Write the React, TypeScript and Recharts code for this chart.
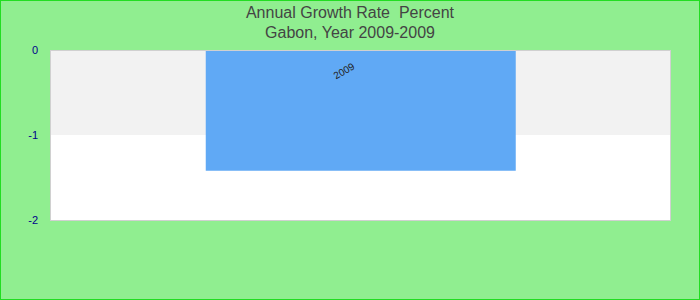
import { BarChart, Bar, XAxis, YAxis, CartesianGrid, ReferenceArea, LabelList } from "recharts";

const years = ["2009"];
const growthRate = [-1.42];
const yTicks = [0, -1, -2];

const data = years.map((year, i) => ({ year, value: growthRate[i] }));

function YearLabel(props: any) {
  const { x, y, width, height, value } = props;
  const top = Math.min(y, y + height);
  const cx = x + width / 2 - 15;
  const cy = top + 24;
  return (
    <text
      x={cx}
      y={cy}
      transform={`rotate(-30, ${cx}, ${cy})`}
      textAnchor="middle"
      fontSize={10}
      fill="#222"
      fontFamily="Arial, 'Liberation Sans', sans-serif"
    >
      {value}
    </text>
  );
}

export default function App() {
  return (
    <div
      style={{
        position: "absolute",
        left: 0,
        top: 0,
        width: 700,
        height: 300,
        boxSizing: "border-box",
        background: "#90ee90",
        border: "1px solid #22dd22",
        fontFamily: "Arial, 'Liberation Sans', sans-serif",
      }}
    >
      <div
        style={{
          position: "absolute",
          top: 2,
          width: "100%",
          textAlign: "center",
          fontSize: 16,
          lineHeight: "20px",
          color: "#444",
        }}
      >
        <div>Annual Growth Rate&nbsp; Percent</div>
        <div>Gabon, Year 2009-2009</div>
      </div>
      <div style={{ position: "absolute", left: -1, top: -1 }}>
        <BarChart
          width={700}
          height={300}
          data={data}
          margin={{ top: 50, right: 30, bottom: 80, left: 1 }}
          barCategoryGap="25%"
        >
          <CartesianGrid fill="#ffffff" horizontal={false} vertical={false} />
          <ReferenceArea y1={-1} y2={0} fill="#f2f2f2" fillOpacity={1} stroke="none" />
          <XAxis dataKey="year" hide />
          <YAxis
            domain={[-2, 0]}
            ticks={yTicks}
            width={50}
            axisLine={false}
            tickLine={false}
            tickMargin={7}
            tick={{ fill: "#00008b", fontSize: 11 }}
          />
          <Bar dataKey="value" fill="#60a9f5" isAnimationActive={false}>
            <LabelList dataKey="year" content={<YearLabel />} />
          </Bar>
        </BarChart>
      </div>
      <div
        style={{
          position: "absolute",
          left: 49,
          top: 49,
          width: 621,
          height: 171,
          boxSizing: "border-box",
          border: "1px solid #d0d0d0",
          pointerEvents: "none",
        }}
      />
    </div>
  );
}
